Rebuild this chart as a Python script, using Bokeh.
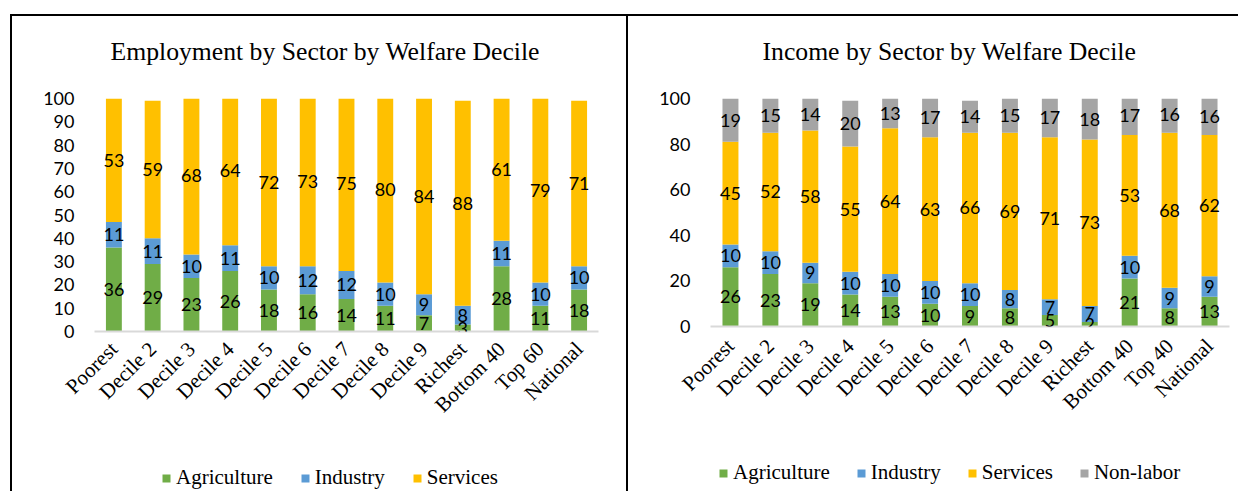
import math
from bokeh.plotting import figure
from bokeh.models import (ColumnDataSource, FactorRange, Range1d, FixedTicker,
                          LabelSet, Legend, LegendItem)
from bokeh.core.properties import value
from bokeh.layouts import row, column
from bokeh.embed import file_html
from bokeh.resources import INLINE

# ---------------- data ----------------
emp_title = "Employment by Sector by Welfare Decile"
emp_cats = ["Poorest", "Decile 2", "Decile 3", "Decile 4", "Decile 5", "Decile 6",
            "Decile 7", "Decile 8", "Decile 9", "Richest", "Bottom 40", "Top 60", "National"]
emp_agriculture = [36, 29, 23, 26, 18, 16, 14, 11, 7, 3, 28, 11, 18]
emp_industry = [11, 11, 10, 11, 10, 12, 12, 10, 9, 8, 11, 10, 10]
emp_services = [53, 59, 68, 64, 72, 73, 75, 80, 84, 88, 61, 79, 71]
emp_yticks = [0, 10, 20, 30, 40, 50, 60, 70, 80, 90, 100]

inc_title = "Income by Sector by Welfare Decile"
inc_cats = ["Poorest", "Decile 2", "Decile 3", "Decile 4", "Decile 5", "Decile 6",
            "Decile 7", "Decile 8", "Decile 9", "Richest", "Bottom 40", "Top 40", "National"]
inc_agriculture = [26, 23, 19, 14, 13, 10, 9, 8, 5, 2, 21, 8, 13]
inc_industry = [10, 10, 9, 10, 10, 10, 10, 8, 7, 7, 10, 9, 9]
inc_services = [45, 52, 58, 55, 64, 63, 66, 69, 71, 73, 53, 68, 62]
inc_nonlabor = [19, 15, 14, 20, 13, 17, 14, 15, 17, 18, 17, 16, 16]
inc_yticks = [0, 20, 40, 60, 80, 100]

series_names = ["Agriculture", "Industry", "Services", "Non-labor"]
series_colors = ["#70AD47", "#5B9BD5", "#FFC000", "#A5A5A5"]

SERIF = "Liberation Serif"
SANS = "Lato"
BORDER = {"border-left": "2px solid #000000", "border-top": "2px solid #000000"}
BORDER_L = {"border-left": "2px solid #000000"}


def blank_strip(width, height, top_border):
    q = figure(x_range=Range1d(0, 1), y_range=Range1d(0, 1), width=width, height=height,
               output_backend="svg", toolbar_location=None,
               x_axis_location=None, y_axis_location=None,
               min_border_left=0, min_border_right=0,
               min_border_top=top_border, min_border_bottom=0)
    q.outline_line_color = None
    q.xgrid.grid_line_color = None
    q.ygrid.grid_line_color = None
    return q


def make_title(text, width, height, offset):
    q = blank_strip(width, height, height - 3)
    q.title.text = text
    q.title.align = "left"
    q.title.offset = offset
    q.title.standoff = 0
    q.title.text_font = SERIF
    q.title.text_font_size = "25.7px"
    q.title.text_font_style = "normal"
    q.title.text_color = "#000000"
    return q


def make_panel(cats, series, yticks, width, height, borders, bar_width, xstandoff):
    p = figure(x_range=FactorRange(factors=cats), y_range=Range1d(0, 100),
               width=width, height=height, output_backend="svg",
               toolbar_location=None,
               min_border_left=borders[0], min_border_right=borders[1],
               min_border_top=borders[2], min_border_bottom=borders[3])
    p.outline_line_color = None
    p.xgrid.grid_line_color = None
    p.ygrid.grid_line_color = None
    p.background_fill_color = "white"
    p.border_fill_color = "white"

    p.yaxis.ticker = FixedTicker(ticks=yticks)
    p.yaxis.axis_line_color = None
    p.yaxis.major_tick_line_color = None
    p.yaxis.minor_tick_line_color = None
    p.yaxis.major_tick_out = 0
    p.yaxis.major_tick_in = 0
    p.yaxis.major_label_standoff = 20
    p.yaxis.major_label_text_font = SANS
    p.yaxis.major_label_text_font_size = "18px"
    p.yaxis.major_label_text_color = "#000000"

    p.xaxis.axis_line_color = "#D9D9D9"
    p.xaxis.axis_line_width = 2
    p.xaxis.major_tick_line_color = None
    p.xaxis.major_tick_out = 0
    p.xaxis.major_tick_in = 0
    p.xaxis.major_label_standoff = xstandoff
    p.xaxis.major_label_orientation = math.pi / 4
    p.xaxis.major_label_text_font = SERIF
    p.xaxis.major_label_text_font_size = "21px"
    p.xaxis.major_label_text_color = "#000000"

    base = [0] * len(cats)
    for i, vals in enumerate(series):
        top = [b + v for b, v in zip(base, vals)]
        src = ColumnDataSource(dict(x=cats, bottom=base, top=top,
                                    mid=[(b + t) / 2 for b, t in zip(base, top)],
                                    txt=[str(v) for v in vals]))
        p.vbar(x="x", bottom="bottom", top="top", width=bar_width, source=src,
               fill_color=series_colors[i], line_color=None)
        lbl = LabelSet(x="x", y="mid", text="txt", source=src,
                       text_align="center", text_baseline="middle",
                       text_font=value(SANS), text_font_size=value("18px"),
                       text_color="#000000")
        p.add_layout(lbl)
        base = top
    return p


def make_legend(n, width, height, loc, spacing):
    q = blank_strip(width, height, 0)
    items = []
    for i in range(n):
        # zero-size swatch carrier: only its legend entry is visible
        r = q.vbar(x=[0.5], bottom=[0], top=[0], width=0,
                   fill_color=series_colors[i], line_color=None)
        items.append(LegendItem(label=series_names[i], renderers=[r]))
    leg = Legend(items=items, location=loc, orientation="horizontal",
                 glyph_width=10, glyph_height=10, label_standoff=5,
                 spacing=spacing, padding=0, margin=0,
                 label_text_font=SERIF, label_text_font_size="21px",
                 label_text_color="#000000",
                 background_fill_alpha=0, border_line_alpha=0)
    q.add_layout(leg)
    return q


t1 = make_title(emp_title, 616, 52, 16)
p1 = make_panel(emp_cats, [emp_agriculture, emp_industry, emp_services],
                emp_yticks, 616, 380, (82, 30, 32, 115), 0.41, 14)
l1 = make_legend(3, 616, 45, (67, 1), 27)

t2 = make_title(inc_title, 612, 52, 52)
p2 = make_panel(inc_cats, [inc_agriculture, inc_industry, inc_services, inc_nonlabor],
                inc_yticks, 612, 380, (82, 11, 32, 120), 0.40, 16)
l2 = make_legend(4, 612, 45, (8, 6), 26)

t1.styles = BORDER
t2.styles = BORDER
for f in (p1, l1, p2, l2):
    f.styles = BORDER_L
t1.margin = (14, 0, 0, 10)
p1.margin = (0, 0, 0, 10)
l1.margin = (0, 0, 0, 10)
t2.margin = (14, 0, 0, 0)
p2.margin = (0, 0, 0, 0)
l2.margin = (0, 0, 0, 0)

layout = row(column(t1, p1, l1, spacing=0), column(t2, p2, l2, spacing=0), spacing=0)

with open("out.html", "w") as f:
    f.write(file_html(layout, INLINE))
